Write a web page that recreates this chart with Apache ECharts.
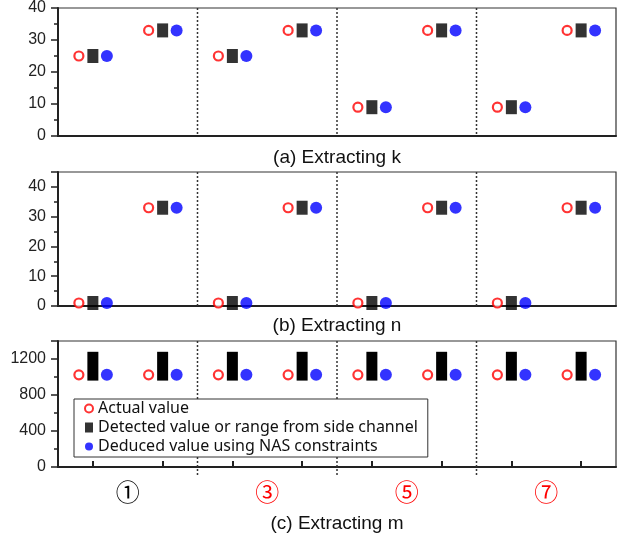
<!DOCTYPE html>
<html>
<head>
<meta charset="utf-8">
<script src="https://cdn.jsdelivr.net/npm/echarts@6/dist/echarts.min.js"></script>
<style>html,body{margin:0;padding:0;background:#fff}#c{width:623px;height:534px}</style>
</head>
<body>
<div id="c"></div>
<script>
// ---- data ----
var categories = ['1-1','1-2','3-1','3-2','5-1','5-2','7-1','7-2'];
var sectionLabels = ['①','③','⑤','⑦'];
var groupBoundaries = [1, 3, 5]; // category index after which a section ends

var kActual   = [25, 33, 25, 33, 9, 33, 9, 33];
var kDetected = [25, 33, 25, 33, 9, 33, 9, 33];
var kDeduced  = [25, 33, 25, 33, 9, 33, 9, 33];

var nActual   = [1, 33, 1, 33, 1, 33, 1, 33];
var nDetected = [1, 33, 1, 33, 1, 33, 1, 33];
var nDeduced  = [1, 33, 1, 33, 1, 33, 1, 33];

var mActual       = [1024, 1024, 1024, 1024, 1024, 1024, 1024, 1024];
var mDetectedLow  = [960, 960, 960, 960, 960, 960, 960, 960];
var mDetectedHigh = [1280, 1280, 1280, 1280, 1280, 1280, 1280, 1280];
var mDeduced      = [1024, 1024, 1024, 1024, 1024, 1024, 1024, 1024];

var yTicksK = [0, 40, 10];
var yTicksN = [0, 45, 10];
var yTicksM = [0, 1400, 400];

var NAME_A = 'Actual value';
var NAME_D = 'Detected value or range from side channel';
var NAME_N = 'Deduced value using NAS constraints';

// ---- styles ----
var RED = '#ff0000', BLUE = '#0000ff', BLACK = '#000';
var FONT = 'Arial';

function xAxisFor(g, name, gap, ticks) {
  return {
    type: 'category', gridIndex: g, data: categories, position: 'bottom',
    boundaryGap: true,
    axisLine: { show: true, lineStyle: { color: '#222', width: 2 } },
    axisTick: { show: ticks, inside: true, alignWithLabel: true, length: 6, lineStyle: { color: '#222', width: 2 } },
    axisLabel: { show: false },
    splitLine: { show: false },
    name: name, nameLocation: 'middle', nameGap: gap,
    nameTextStyle: { fontFamily: FONT, fontSize: 19, color: '#111' }
  };
}
function yAxisFor(g, t) {
  return {
    type: 'value', gridIndex: g, min: t[0], max: t[1], interval: t[2],
    axisLine: { show: true, lineStyle: { color: '#222', width: 2 } },
    axisTick: { show: true, length: 7, lineStyle: { color: '#222', width: 1.5 } },
    minorTick: { show: true, splitNumber: 2, length: 4, lineStyle: { color: '#222', width: 1.5 } },
    axisLabel: { fontFamily: FONT, fontSize: 16, color: '#222', margin: 12,
      showMaxLabel: t[1] % t[2] === 0, formatter: function (v) { return String(v); } },
    splitLine: { show: false }
  };
}
function actualSeries(g, data) {
  return { type: 'scatter', name: NAME_A, xAxisIndex: g, yAxisIndex: g, data: data,
    symbol: 'circle', symbolSize: 9, symbolOffset: [-14, 0],
    itemStyle: { color: '#fff', borderColor: RED, borderWidth: 2.2 }, z: 5 };
}
function detectedSeries(g, data) {
  return { type: 'scatter', name: NAME_D, xAxisIndex: g, yAxisIndex: g, data: data,
    symbol: 'rect', symbolSize: [11, 14], itemStyle: { color: BLACK }, z: 5 };
}
function deducedSeries(g, data) {
  return { type: 'scatter', name: NAME_N, xAxisIndex: g, yAxisIndex: g, data: data,
    symbol: 'circle', symbolSize: 12, symbolOffset: [14, 0],
    itemStyle: { color: BLUE }, z: 5 };
}
function separatorSeries(g, xi, extend) {
  return { type: 'custom', xAxisIndex: xi, yAxisIndex: g, silent: true, z: 1,
    data: groupBoundaries.map(function (b) { return [b, 0]; }),
    renderItem: function (params, api) {
      var c = api.coord([api.value(0), 0]);
      var half = api.size([1, 0])[0] / 2;
      var x = c[0] + half;
      var cs = params.coordSys;
      return { type: 'line',
        shape: { x1: x, y1: cs.y, x2: x, y2: cs.y + cs.height + extend },
        style: { stroke: '#333', lineWidth: 1.5, lineDash: [2, 2] } };
    } };
}

var mRange = categories.map(function (c, i) { return [i, mDetectedLow[i], mDetectedHigh[i]]; });

var option = {
  animation: false,
  backgroundColor: '#fff',
  grid: [
    { left: 58, right: 7, top: 7, height: 129, show: true, borderColor: '#333', borderWidth: 1.2, backgroundColor: 'transparent' },
    { left: 58, right: 7, top: 172, height: 134, show: true, borderColor: '#333', borderWidth: 1.2, backgroundColor: 'transparent' },
    { left: 58, right: 7, top: 341, height: 133, show: true, borderColor: '#333', borderWidth: 1.2, backgroundColor: 'transparent' }
  ],
  xAxis: [
    xAxisFor(0, '(a) Extracting k', 12, false),
    xAxisFor(1, '(b) Extracting n', 10, false),
    xAxisFor(2, '(c) Extracting m', 47, true),
    { type: 'category', gridIndex: 2, data: sectionLabels, position: 'bottom', boundaryGap: true,
      axisLine: { show: false }, axisTick: { show: false }, splitLine: { show: false },
      axisLabel: { margin: 13, formatter: function (v, i) { return (i === 0 ? '{k|' : '{r|') + v + '}'; },
        rich: { k: { color: '#000', fontSize: 24, fontFamily: 'Noto Sans CJK SC' },
                r: { color: '#f00', fontSize: 24, fontFamily: 'Noto Sans CJK SC' } } } }
  ],
  yAxis: [ yAxisFor(0, yTicksK), yAxisFor(1, yTicksN), yAxisFor(2, yTicksM) ],
  legend: {
    orient: 'vertical', left: 74, top: 399,
    padding: [1, 10, 2, 10], itemGap: 2, itemWidth: 8, itemHeight: 10,
    backgroundColor: '#fff', borderColor: '#333', borderWidth: 1,
    textStyle: { fontFamily: 'Noto Sans', fontSize: 16, color: '#111', lineHeight: 17 },
    selectedMode: false,
    data: [
      { name: NAME_A, icon: 'circle', itemStyle: { color: '#fff', borderColor: RED, borderWidth: 2 } },
      { name: NAME_D, icon: 'rect', itemStyle: { color: BLACK } },
      { name: NAME_N, icon: 'circle', itemStyle: { color: BLUE } }
    ]
  },
  series: [
    separatorSeries(0, 0, 0), separatorSeries(1, 1, 0), separatorSeries(2, 2, 8),
    actualSeries(0, kActual), detectedSeries(0, kDetected), deducedSeries(0, kDeduced),
    actualSeries(1, nActual), detectedSeries(1, nDetected), deducedSeries(1, nDeduced),
    actualSeries(2, mActual),
    { type: 'custom', name: NAME_D, xAxisIndex: 2, yAxisIndex: 2, data: mRange, z: 5,
      encode: { x: 0, y: [1, 2] }, itemStyle: { color: BLACK },
      renderItem: function (params, api) {
        var lo = api.coord([api.value(0), api.value(1)]);
        var hi = api.coord([api.value(0), api.value(2)]);
        return { type: 'rect', shape: { x: hi[0] - 5.5, y: hi[1], width: 11, height: lo[1] - hi[1] },
          style: { fill: BLACK } };
      } },
    deducedSeries(2, mDeduced)
  ]
};
echarts.init(document.getElementById('c'), null, { renderer: 'canvas' }).setOption(option);
</script>
</body>
</html>
